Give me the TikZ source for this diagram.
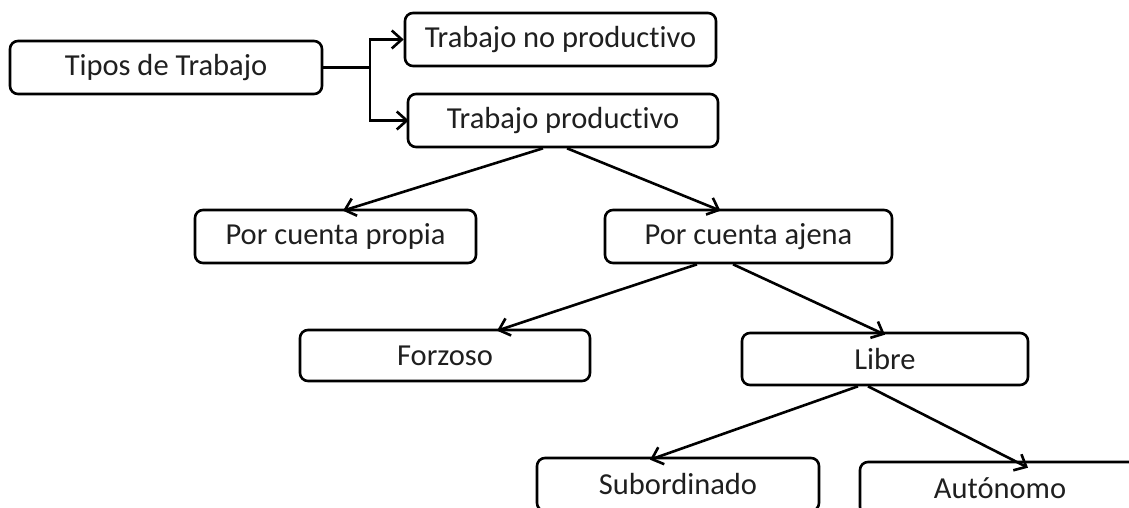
\documentclass[tikz,border=0pt]{standalone}
\usepackage{fontspec}
\setmainfont{Carlito}[Ligatures={NoCommon,NoRare,NoContextual}]
\usetikzlibrary{arrows.meta}
\begin{document}
\begin{tikzpicture}[x=1pt,y=-1pt,
  box/.style={draw=black,line width=2.6pt,rounded corners=8pt,fill=white,
    inner sep=0pt,font=\fontsize{30.5}{34}\selectfont,text=black!88},
  conn/.style={line width=2.6pt,-{Straight Barb[length=10pt,width=18pt,line width=2.6pt]}}]
\useasboundingbox (0,0) rectangle (1129,508);
\fill[white] (0,0) rectangle (1129,508);
\clip (0,0) rectangle (1129,508);
\node[box,minimum width=312pt,minimum height=53pt] (tipos) at (166,67.5) {Tipos de Trabajo};
\node[box,minimum width=311pt,minimum height=53pt] (nopro) at (560.5,39.5) {Trabajo no productivo};
\node[box,minimum width=310pt,minimum height=53pt] (prod) at (563,120.5) {Trabajo productivo};
\node[box,minimum width=281pt,minimum height=53pt] (propia) at (335.5,236.5) {Por cuenta propia};
\node[box,minimum width=287pt,minimum height=53pt] (ajena) at (748.5,236.5) {Por cuenta ajena};
\node[box,minimum width=290pt,minimum height=51pt] (forzoso) at (445,355.5) {Forzoso};
\node[box,minimum width=286pt,minimum height=52pt] (libre) at (885,359) {Libre};
\node[box,minimum width=282pt,minimum height=53pt] (sub) at (678,484.5) {Subordinado};
\node[box,minimum width=280pt,minimum height=53pt] (auto) at (1000,488.5) {Autónomo};
\coordinate (split) at (370,67.5);
\draw[line width=2.6pt] (tipos.east) -- (split);
\draw[conn] (split) |- (nopro.west);
\draw[conn] (split) |- ([xshift=2pt]prod.west);
\draw[conn] ([xshift=-20pt]prod.south) -- ([xshift=7.5pt,yshift=-2pt]propia.north);
\draw[conn] ([xshift=4pt]prod.south) -- ([xshift=-28pt,yshift=-2pt]ajena.north);
\draw[conn] ([xshift=-51.5pt]ajena.south) -- ([xshift=52pt,yshift=-2pt]forzoso.north);
\draw[conn] ([xshift=-15.5pt]ajena.south) -- ([yshift=-3pt]libre.north);
\draw[conn] ([xshift=-27pt]libre.south) -- ([xshift=-28pt,yshift=-3pt]sub.north);
\draw[conn] ([xshift=-17pt]libre.south) -- ([xshift=28pt,yshift=-7pt]auto.north);
\end{tikzpicture}
\end{document}
